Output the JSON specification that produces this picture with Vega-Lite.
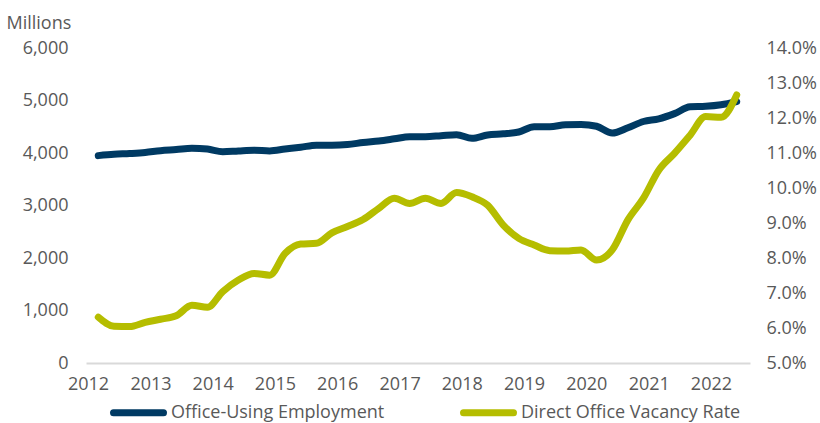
{
  "$schema": "https://vega.github.io/schema/vega-lite/v6.json",
  "width": 664,
  "height": 315,
  "autosize": {"type": "none"},
  "padding": {"left": 86, "top": 48, "right": 70, "bottom": 60},
  "background": "white",
  "config": {
    "view": {"stroke": null},
    "font": "Open Sans",
    "axis": {"labelFont": "Open Sans", "labelFontSize": 18, "labelColor": "#595959", "grid": false, "ticks": false, "tickSize": 0, "domain": false, "titleFont": "Open Sans"},
    "legend": {"labelFont": "Open Sans", "labelFontSize": 18, "labelColor": "#595959"}
  },
  "datasets": {
    "employment": [
      {"date": "2012-03-01", "value": 3950},
      {"date": "2012-06-01", "value": 3975},
      {"date": "2012-09-01", "value": 3990},
      {"date": "2012-12-01", "value": 4010},
      {"date": "2013-03-01", "value": 4044},
      {"date": "2013-06-01", "value": 4065},
      {"date": "2013-09-01", "value": 4090},
      {"date": "2013-12-01", "value": 4075},
      {"date": "2014-03-01", "value": 4025},
      {"date": "2014-06-01", "value": 4040},
      {"date": "2014-09-01", "value": 4052},
      {"date": "2014-12-01", "value": 4040},
      {"date": "2015-03-01", "value": 4075},
      {"date": "2015-06-01", "value": 4110},
      {"date": "2015-09-01", "value": 4150},
      {"date": "2015-12-01", "value": 4150},
      {"date": "2016-03-01", "value": 4160},
      {"date": "2016-06-01", "value": 4200},
      {"date": "2016-09-01", "value": 4230},
      {"date": "2016-12-01", "value": 4270},
      {"date": "2017-03-01", "value": 4311},
      {"date": "2017-06-01", "value": 4311},
      {"date": "2017-09-01", "value": 4330},
      {"date": "2017-12-01", "value": 4350},
      {"date": "2018-03-01", "value": 4280},
      {"date": "2018-06-01", "value": 4343},
      {"date": "2018-09-01", "value": 4365},
      {"date": "2018-12-01", "value": 4400},
      {"date": "2019-03-01", "value": 4500},
      {"date": "2019-06-01", "value": 4500},
      {"date": "2019-09-01", "value": 4540},
      {"date": "2019-12-01", "value": 4545},
      {"date": "2020-03-01", "value": 4510},
      {"date": "2020-06-01", "value": 4380},
      {"date": "2020-09-01", "value": 4480},
      {"date": "2020-12-01", "value": 4600},
      {"date": "2021-03-01", "value": 4650},
      {"date": "2021-06-01", "value": 4750},
      {"date": "2021-09-01", "value": 4880},
      {"date": "2021-12-01", "value": 4890},
      {"date": "2022-03-01", "value": 4920},
      {"date": "2022-06-01", "value": 4980}
    ],
    "vacancy": [
      {"date": "2012-03-01", "rate": 6.31},
      {"date": "2012-06-01", "rate": 6.05},
      {"date": "2012-09-01", "rate": 6.04},
      {"date": "2012-12-01", "rate": 6.16},
      {"date": "2013-03-01", "rate": 6.25},
      {"date": "2013-06-01", "rate": 6.35},
      {"date": "2013-09-01", "rate": 6.65},
      {"date": "2013-12-01", "rate": 6.59},
      {"date": "2014-03-01", "rate": 7.04},
      {"date": "2014-06-01", "rate": 7.37},
      {"date": "2014-09-01", "rate": 7.56},
      {"date": "2014-12-01", "rate": 7.51},
      {"date": "2015-03-01", "rate": 8.13},
      {"date": "2015-06-01", "rate": 8.4},
      {"date": "2015-09-01", "rate": 8.42},
      {"date": "2015-12-01", "rate": 8.72},
      {"date": "2016-03-01", "rate": 8.9},
      {"date": "2016-06-01", "rate": 9.1},
      {"date": "2016-09-01", "rate": 9.42},
      {"date": "2016-12-01", "rate": 9.71},
      {"date": "2017-03-01", "rate": 9.56},
      {"date": "2017-06-01", "rate": 9.71},
      {"date": "2017-09-01", "rate": 9.56},
      {"date": "2017-12-01", "rate": 9.87},
      {"date": "2018-03-01", "rate": 9.75},
      {"date": "2018-06-01", "rate": 9.51},
      {"date": "2018-09-01", "rate": 8.94},
      {"date": "2018-12-01", "rate": 8.56},
      {"date": "2019-03-01", "rate": 8.37},
      {"date": "2019-06-01", "rate": 8.21},
      {"date": "2019-09-01", "rate": 8.2},
      {"date": "2019-12-01", "rate": 8.23},
      {"date": "2020-03-01", "rate": 7.94},
      {"date": "2020-06-01", "rate": 8.23},
      {"date": "2020-09-01", "rate": 9.09},
      {"date": "2020-12-01", "rate": 9.71},
      {"date": "2021-03-01", "rate": 10.51},
      {"date": "2021-06-01", "rate": 10.99},
      {"date": "2021-09-01", "rate": 11.51},
      {"date": "2021-12-01", "rate": 12.04},
      {"date": "2022-03-01", "rate": 12.02},
      {"date": "2022-06-01", "rate": 12.66}
    ]
  },
  "layer": [
    {
      "data": {"name": "employment"},
      "mark": {"type": "line", "strokeWidth": 7, "strokeCap": "round", "strokeJoin": "round", "interpolate": "monotone"},
      "encoding": {
        "x": {
          "field": "date", "type": "temporal",
          "scale": {"domain": ["2011-12-20", "2022-08-18"]},
          "axis": {"title": null, "format": "%Y", "tickCount": {"interval": "year", "step": 1}, "domain": true, "domainColor": "#d9d9d9", "domainWidth": 2, "labelPadding": 12, "labelOverlap": false, "labelFlush": false}
        },
        "y": {
          "field": "value", "type": "quantitative",
          "scale": {"domain": [0, 6000], "nice": false, "zero": true},
          "axis": {"values": [0, 1000, 2000, 3000, 4000, 5000, 6000], "format": ",.0f", "labelPadding": 18, "title": "Millions", "titleAngle": 0, "titleAlign": "left", "titleBaseline": "alphabetic", "titleX": -80, "titleY": -20, "titleFontSize": 18, "titleFontWeight": "normal", "titleColor": "#595959"}
        },
        "color": {
          "datum": "Office-Using Employment",
          "scale": {"domain": ["Office-Using Employment", "Direct Office Vacancy Rate"], "range": ["#003A63", "#B5BD00"]},
          "legend": {
            "title": null, "orient": "none", "direction": "horizontal", "legendX": 24, "legendY": 336,
            "symbolType": "stroke", "symbolSize": 2500, "symbolStrokeWidth": 7, "labelLimit": 400, "columnPadding": 64, "labelOffset": 4,
            "encode": {"symbols": {"update": {"strokeCap": {"value": "round"}}}}
          }
        }
      }
    },
    {
      "data": {"name": "vacancy"},
      "mark": {"type": "line", "strokeWidth": 7, "strokeCap": "round", "strokeJoin": "round", "interpolate": "monotone"},
      "encoding": {
        "x": {"field": "date", "type": "temporal"},
        "y": {
          "field": "rate", "type": "quantitative",
          "scale": {"domain": [5, 14], "nice": false, "zero": false},
          "axis": {"orient": "right", "title": null, "values": [5, 6, 7, 8, 9, 10, 11, 12, 13, 14], "labelExpr": "format(datum.value, '.1f') + '%'", "labelPadding": 16}
        },
        "color": {"datum": "Direct Office Vacancy Rate"}
      }
    }
  ],
  "resolve": {"scale": {"y": "independent"}}
}
